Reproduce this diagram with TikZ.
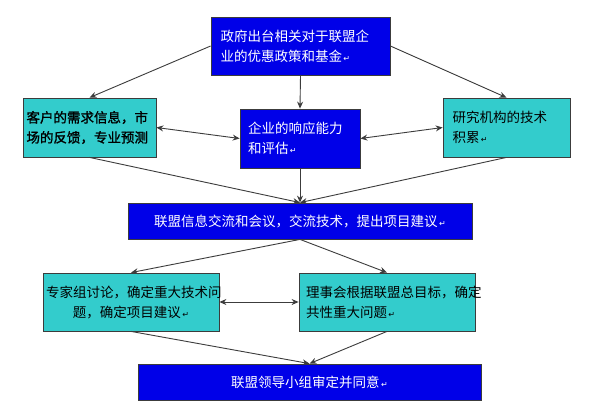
\documentclass[tikz,border=0pt]{standalone}
\usepackage{fontspec}
\setmainfont{Noto Sans CJK SC}
\newfontfamily\cjkbold[FakeBold=1.2]{Noto Sans CJK SC}
\newfontfamily\symfont{DejaVu Sans}
\usetikzlibrary{arrows.meta}
\definecolor{boxblue}{RGB}{0,0,232}
\definecolor{boxcyan}{RGB}{51,204,204}
\definecolor{linegray}{RGB}{60,60,60}
\newcommand{\pmark}{{\symfont\fontsize{8}{8}\selectfont\,↵}}
\tikzset{
  base/.style={draw=linegray, line width=0.8pt, inner sep=0pt, font=\fontsize{13.5}{20}\selectfont},
  bluebox/.style={base, fill=boxblue, text=white},
  cyanbox/.style={base, fill=boxcyan, text=black},
  conn/.style={draw=linegray, line width=0.9pt, -{Stealth[length=7pt,width=6pt]}},
  dconn/.style={draw=linegray, line width=0.9pt, {Stealth[length=7pt,width=6pt]}-{Stealth[length=7pt,width=6pt]}}
}
\begin{document}
\begin{tikzpicture}[x=1pt,y=-1pt]
\useasboundingbox[fill=white] (0,0) rectangle (596,418);
\node[bluebox, minimum width=179pt, minimum height=58pt, text width=160pt, align=left] (top) at (300.5,46) {政府出台相关对于联盟企\\业的优惠政策和基金\pmark};
\node[cyanbox, minimum width=133pt, minimum height=59pt, text width=126pt, align=left] (lbox) at (89.5,127.5) {\cjkbold 客户的需求信息，市\\场的反馈，专业预测};
\node[bluebox, minimum width=120pt, minimum height=59pt, text width=104pt, align=left] (cbox) at (300,138.5) {企业的响应能力\\和评估\pmark};
\node[cyanbox, minimum width=127pt, minimum height=59pt, text width=108pt, align=left] (rbox) at (506.5,127.5) {研究机构的技术\\积累\pmark};
\node[bluebox, minimum width=344pt, minimum height=36pt] (mid) at (300,221) {联盟信息交流和会议，交流技术，提出项目建议\pmark};
\node[cyanbox, minimum width=176pt, minimum height=58pt, text width=170pt, align=center] (ll) at (131,302) {专家组讨论，确定重大技术问\\题，确定项目建议\pmark};
\node[cyanbox, minimum width=176pt, minimum height=58pt, text width=162pt, align=left] (lr) at (387,302) {理事会根据联盟总目标，确定\\共性重大问题\pmark};
\node[bluebox, minimum width=343pt, minimum height=36pt] (bot) at (309.5,382) {联盟领导小组审定并同意\pmark};
\draw[conn] (top.west) -- (lbox.north);
\draw[conn] (top.east) -- (rbox.north);
\draw[conn] (top.south) -- (cbox.north);
\draw[dconn] (lbox.east) -- (cbox.west);
\draw[dconn] (cbox.east) -- (rbox.west);
\draw[conn] (lbox.south) -- (mid.north);
\draw[conn] (cbox.south) -- (mid.north);
\draw[conn] (rbox.south) -- (mid.north);
\draw[conn] (mid.south) -- (ll.north);
\draw[conn] (mid.south) -- (lr.north);
\draw[dconn] (ll.east) -- (lr.west);
\draw[conn] (ll.south) -- (bot.north);
\draw[conn] (lr.south) -- (bot.north);
\end{tikzpicture}
\end{document}
